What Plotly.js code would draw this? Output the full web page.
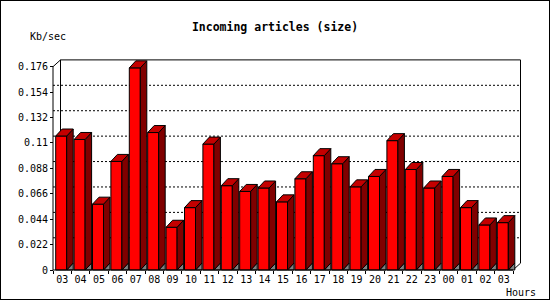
<!DOCTYPE html>
<html>
<head>
<meta charset="utf-8">
<script src="https://cdn.plot.ly/plotly-3.0.1.min.js"></script>
<style>
  html, body { margin: 0; padding: 0; background: #fff; }
  #wrap { position: relative; width: 550px; height: 300px; }
  #chart { width: 550px; height: 300px; }
  #frame { position: absolute; left: 0; top: 0; width: 550px; height: 300px;
           box-sizing: border-box; border: 1px solid #000; pointer-events: none; }
</style>
</head>
<body>
<div id="wrap"><div id="chart"></div><div id="frame"></div></div>
<script>
// ---- data ----
const hours = ["03","04","05","06","07","08","09","10","11","12","13","14","15","16","17","18","19","20","21","22","23","00","01","02","03"];
const kbps  = [0.116,0.113,0.057,0.094,0.175,0.119,0.037,0.054,0.109,0.073,0.068,0.071,0.059,0.079,0.099,0.092,0.072,0.081,0.112,0.087,0.071,0.081,0.054,0.039,0.041];
const yTicks      = [0,0.022,0.044,0.066,0.088,0.11,0.132,0.154,0.176];
const yTickLabels = ["0","0.022","0.044","0.066","0.088","0.11","0.132","0.154","0.176"];

// ---- geometry (pixel based, converted to axis units) ----
const CAT_PX = 18.4;            // px per category
const PX_PER_UNIT = 1155.1;     // px per Kb/sec
const PAD_PX = 3;
const plotW = 473, plotH = 215;
const xMin = -0.5 - PAD_PX / CAT_PX;
const xMax = xMin + plotW / CAT_PX;
const yMin = -PAD_PX / PX_PER_UNIT;
const yMax = yMin + plotH / PX_PER_UNIT;

const BAR_W = 11 / CAT_PX;
const BAR_SHIFT = (2.7 + 5.5) / CAT_PX - 0.5;
const BDX = 6.5 / CAT_PX, BDY = 7 / PX_PER_UNIT;     // bar depth
const PDX = 7.5 / CAT_PX, PDY = 6.8 / PX_PER_UNIT;   // back plane depth
const yTop = yTicks[yTicks.length - 1];
const nCat = hours.length;

const idx = hours.map((_, i) => i);
const barX = idx.map(i => i + BAR_SHIFT);

const sideX = [], sideY = [], topX = [], topY = [], shX = [], shY = [];
idx.forEach(i => {
  const v = kbps[i];
  const L = barX[i] - BAR_W / 2, R = barX[i] + BAR_W / 2;
  sideX.push(R, R + BDX, R + BDX, R, R, null);
  sideY.push(0, BDY, v + BDY, v, 0, null);
  topX.push(L, L + BDX, R + BDX, R, L, null);
  topY.push(v, v + BDY, v + BDY, v, v, null);
  shX.push(R, R + BDX, R + BDX, R, null);
  shY.push(0, 0, BDY, 0, null);
});

const traces = [
  { type: 'bar', x: barX, y: kbps, width: BAR_W,
    marker: { color: '#ff0000', line: { color: '#000', width: 1 } },
    hoverinfo: 'skip' },
  { type: 'scatter', mode: 'lines', x: shX, y: shY, fill: 'toself',
    fillcolor: '#808080', line: { color: '#000', width: 1 }, hoverinfo: 'skip' },
  { type: 'scatter', mode: 'lines', x: sideX, y: sideY, fill: 'toself',
    fillcolor: '#800000', line: { color: '#000', width: 1 }, hoverinfo: 'skip' },
  { type: 'scatter', mode: 'lines', x: topX, y: topY, fill: 'toself',
    fillcolor: '#c40000', line: { color: '#000', width: 1 }, hoverinfo: 'skip' },
  { type: 'scatter', mode: 'markers', x: [0], y: [0], xaxis: 'x2',
    marker: { opacity: 0 }, hoverinfo: 'skip' }
];

const shapes = [];
const ln = (x0, y0, x1, y1, layer, dash) => shapes.push({
  type: 'line', xref: 'x', yref: 'y', x0, y0, x1, y1, layer,
  line: { color: '#000', width: 1, dash: dash || 'solid' } });

// back gridlines
yTicks.slice(1, -1).forEach(t => ln(-0.5, t + PDY, nCat - 0.5 + PDX, t + PDY, 'below', '2px,2px'));
// back plane
ln(-0.5 + PDX, yTop + PDY, nCat - 0.5 + PDX, yTop + PDY, 'below');
ln(nCat - 0.5 + PDX, PDY, nCat - 0.5 + PDX, yTop + PDY, 'below');
ln(-0.5 + PDX, PDY, -0.5 + PDX, yTop + PDY, 'below');
ln(-0.5, yTop, -0.5 + PDX, yTop + PDY, 'below');
ln(nCat - 0.5, 0, nCat - 0.5 + PDX, PDY, 'below');
// front axes
ln(-0.5, 0, -0.5, yTop, 'above');
ln(-0.5, 0, nCat - 0.5, 0, 'above');

const boundaries = [];
for (let i = 0; i <= nCat; i++) boundaries.push(i - 0.5);

const tickFont = { family: 'DejaVu Sans Mono', size: 10, color: '#000' };

const layout = {
  width: 550, height: 300,
  margin: { l: 50, r: 550 - 50 - plotW, t: 58, b: 300 - 58 - plotH, pad: 0 },
  paper_bgcolor: '#fff', plot_bgcolor: '#fff',
  showlegend: false,
  title: { text: 'Incoming articles (size)', x: 0.5, xanchor: 'center',
           xref: 'container', y: 1 - 26.5 / 300, yref: 'container', yanchor: 'middle',
           font: { family: 'DejaVu Sans Mono', size: 11.5, weight: 'bold', color: '#000' } },
  xaxis: { range: [xMin, xMax], tickmode: 'array', tickvals: idx, ticktext: hours,
           ticks: '', showgrid: false, zeroline: false, showline: false,
           ticklabelstandoff: 2,
           anchor: 'free', position: PAD_PX / plotH, tickfont: tickFont, fixedrange: true },
  xaxis2: { range: [xMin, xMax], overlaying: 'x', anchor: 'free', position: PAD_PX / plotH,
            tickmode: 'array', tickvals: boundaries, showticklabels: false,
            ticks: 'outside', ticklen: 3, tickwidth: 1, tickcolor: '#000',
            showgrid: false, zeroline: false, showline: false },
  yaxis: { range: [yMin, yMax], tickmode: 'array', tickvals: yTicks, ticktext: yTickLabels,
           ticks: 'outside', ticklen: 3, tickwidth: 1, tickcolor: '#000',
           showgrid: false, zeroline: false, showline: false,
           anchor: 'free', position: PAD_PX / plotW, tickfont: tickFont, fixedrange: true },
  shapes: shapes,
  annotations: [
    { text: 'Kb/sec', xref: 'paper', yref: 'paper', x: (28 - 50) / plotW, y: (273 - 37) / plotH,
      xanchor: 'left', yanchor: 'middle', showarrow: false, font: tickFont },
    { text: 'Hours', xref: 'paper', yref: 'paper', x: (504 - 50) / plotW, y: (273 - 292) / plotH,
      xanchor: 'left', yanchor: 'middle', showarrow: false, font: tickFont }
  ]
};

Plotly.newPlot('chart', traces, layout, { staticPlot: true, displayModeBar: false });
</script>
</body>
</html>
